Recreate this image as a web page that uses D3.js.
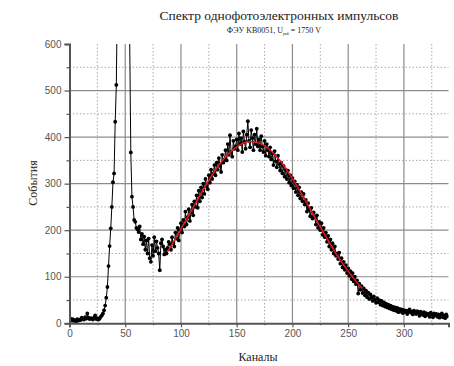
<!DOCTYPE html>
<html>
<head>
<meta charset="utf-8">
<script src="https://cdn.jsdelivr.net/npm/d3@7"></script>
<style>
  body { margin: 0; background: #fff; }
</style>
</head>
<body>
<div id="chart"></div>
<script>
// events per channel, channel = index
var counts = [
  8, 10, 6, 9, 5, 7, 4, 9, 6, 8,
  7, 12, 9, 8, 13, 10, 21, 12, 9, 11,
  10, 8, 12, 17, 9, 11, 8, 10, 14, 17,
  21, 28, 38, 55, 78, 123, 166, 204, 250, 303,
  322, 433, 512, 720, 950, 1150, 1300, 1350, 1300, 1150,
  980, 820, 680, 640, 610, 367, 272, 250, 222, 218,
  205, 202, 196, 208, 180, 192, 170, 186, 158, 178,
  150, 182, 140, 132, 168, 145, 185, 155, 176, 162,
  150, 114, 172, 180, 165, 148, 158, 150, 162, 175,
  170, 158, 185, 172, 165, 195, 182, 205, 178, 200,
  215, 195, 222, 208, 240, 212, 228, 245, 220, 238,
  255, 232, 262, 250, 275, 248, 285, 262, 292, 270,
  300, 278, 310, 295, 288, 318, 302, 330, 310, 322,
  340, 318, 345, 330, 355, 338, 325, 362, 345, 352,
  372, 350, 385, 362, 404, 368, 358, 392, 375, 380,
  395, 372, 408, 385, 398, 368, 412, 390, 375, 405,
  434, 392, 378, 415, 398, 372, 405, 385, 418, 380,
  395, 372, 402, 380, 368, 392, 360, 385, 372, 358,
  378, 352, 365, 340, 370, 348, 335, 360, 342, 328,
  345, 322, 338, 315, 330, 310, 328, 302, 318, 296,
  312, 290, 305, 282, 298, 275, 292, 268, 282, 262,
  278, 255, 265, 240, 258, 245, 230, 248, 225, 238,
  228, 212, 232, 205, 218, 200, 215, 190, 205, 185,
  195, 175, 188, 165, 180, 158, 172, 150, 165, 145,
  150, 138, 152, 128, 140, 120, 132, 115, 125, 108,
  118, 102, 112, 95, 108, 90, 100, 84, 92, 64,
  85, 72, 80, 65, 75, 60, 70, 56, 66, 52,
  62, 55, 48, 58, 50, 44, 54, 45, 50, 40,
  48, 38, 45, 36, 42, 34, 40, 32, 38, 30,
  36, 28, 34, 27, 33, 24, 31, 25, 30, 22,
  28, 24, 27, 20, 26, 30, 23, 25, 19, 27,
  24, 20, 26, 22, 16, 25, 21, 18, 24, 15,
  22, 18, 20, 14, 23, 19, 13, 21, 17, 20,
  14, 19, 12, 18, 21, 13, 17, 11, 19, 15
];

// red fit curve, read at these channels
var fitChannels = [88, 100, 110, 120, 130, 140, 150, 160, 170, 180, 190, 200, 210, 220, 230, 240, 250, 260, 263];
var fitValues   = [154, 202, 245, 287, 326, 357, 379, 390, 387, 372, 346, 311, 271, 228, 186, 146, 112, 82, 75];

var xMajor = [0, 50, 100, 150, 200, 250, 300];
var xMinor = [25, 75, 125, 175, 225, 275, 325];
var yMajor = [0, 100, 200, 300, 400, 500, 600];
var yMinor = [50, 150, 250, 350, 450, 550];

var W = 454, H = 366;
var margin = {left: 69.5, right: 5.5, top: 44, bottom: 42.7};
var iw = W - margin.left - margin.right;
var ih = H - margin.top - margin.bottom;

var svg = d3.select("#chart").append("svg")
  .attr("width", W)
  .attr("height", H);

var x = d3.scaleLinear().domain([0, 340]).range([0, iw]);
var y = d3.scaleLinear().domain([0, 600]).range([ih, 0]);

var g = svg.append("g")
  .attr("transform", "translate(" + margin.left + "," + margin.top + ")");

svg.append("defs").append("clipPath").attr("id", "plotclip")
  .append("rect").attr("x", 0).attr("y", 0).attr("width", iw).attr("height", ih);

//grid
g.selectAll(".vmin").data(xMinor).enter().append("line")
  .attr("x1", d => x(d)).attr("x2", d => x(d))
  .attr("y1", 0).attr("y2", ih)
  .attr("stroke", "#aaa").attr("stroke-dasharray", "1.5,2");
g.selectAll(".hmin").data(yMinor).enter().append("line")
  .attr("x1", 0).attr("x2", iw)
  .attr("y1", d => y(d)).attr("y2", d => y(d))
  .attr("stroke", "#aaa").attr("stroke-dasharray", "1.5,2");
g.selectAll(".vmaj").data(xMajor.slice(1)).enter().append("line")
  .attr("x1", d => x(d)).attr("x2", d => x(d))
  .attr("y1", 0).attr("y2", ih)
  .attr("stroke", "#8c8c8c").attr("stroke-width", 1.2);
g.selectAll(".hmaj").data(yMajor.slice(1, -1)).enter().append("line")
  .attr("x1", 0).attr("x2", iw)
  .attr("y1", d => y(d)).attr("y2", d => y(d))
  .attr("stroke", "#8c8c8c").attr("stroke-width", 1.2);

// data
var plot = g.append("g").attr("clip-path", "url(#plotclip)");
var line = d3.line().x((d, i) => x(i)).y(d => y(d));

plot.append("path")
  .datum(counts)
  .attr("d", line)
  .attr("fill", "none")
  .attr("stroke", "#000")
  .attr("stroke-width", 1);

plot.selectAll(".pt").data(counts).enter().append("circle")
  .attr("cx", (d, i) => x(i))
  .attr("cy", d => y(d))
  .attr("r", 1.9)
  .attr("fill", "#000");

var fitLine = d3.line()
  .x(d => x(d[0])).y(d => y(d[1]))
  .curve(d3.curveCatmullRom);

plot.append("path")
  .datum(fitChannels.map((c, i) => [c, fitValues[i]]))
  .attr("d", fitLine)
  .attr("fill", "none")
  .attr("stroke", "#e8141c")
  .attr("stroke-width", 1.5);

// axes
g.append("g").attr("transform", "translate(0," + ih + ")")
  .call(d3.axisBottom(x).tickValues(xMajor).tickSize(4).tickPadding(3));
g.append("g").attr("transform", "translate(0," + ih + ")")
  .call(d3.axisBottom(x).tickValues(xMinor).tickSize(2).tickFormat(""))
  .select(".domain").remove();
g.append("g")
  .call(d3.axisLeft(y).tickValues(yMajor).tickSize(5).tickPadding(3));
g.append("g")
  .call(d3.axisLeft(y).tickValues(yMinor).tickSize(3).tickFormat(""))
  .select(".domain").remove();

g.selectAll(".domain").attr("stroke", "#555").attr("stroke-width", 2);
g.selectAll(".tick line").attr("stroke", "#555").attr("stroke-width", 1.2);
g.selectAll(".tick text")
  .style("font-family", "'Liberation Sans', Arial, sans-serif")
  .style("font-size", "10px")
  .attr("fill", "#555");

// labels
svg.append("text")
  .attr("x", 279).attr("y", 20)
  .attr("text-anchor", "middle")
  .style("font-family", "'Liberation Serif', 'Times New Roman', serif")
  .style("font-size", "13.5px")
  .attr("fill", "#222")
  .text("Спектр однофотоэлектронных импульсов");

var sub = svg.append("text")
  .attr("x", 274).attr("y", 33)
  .attr("text-anchor", "middle")
  .style("font-family", "'Liberation Serif', 'Times New Roman', serif")
  .style("font-size", "8px")
  .attr("fill", "#222");
sub.append("tspan").text("ФЭУ KB0051, U");
sub.append("tspan").attr("dy", 2).style("font-size", "4px").text("раб");
sub.append("tspan").attr("dy", -2).text(" = 1750 V");

svg.append("text")
  .attr("transform", "translate(37,183) rotate(-90)")
  .attr("text-anchor", "middle")
  .style("font-family", "'Liberation Serif', 'Times New Roman', serif")
  .style("font-size", "12px")
  .attr("fill", "#222")
  .text("События");

svg.append("text")
  .attr("x", 258).attr("y", 361)
  .attr("text-anchor", "middle")
  .style("font-family", "'Liberation Serif', 'Times New Roman', serif")
  .style("font-size", "12px")
  .attr("fill", "#222")
  .text("Каналы");
</script>
</body>
</html>
